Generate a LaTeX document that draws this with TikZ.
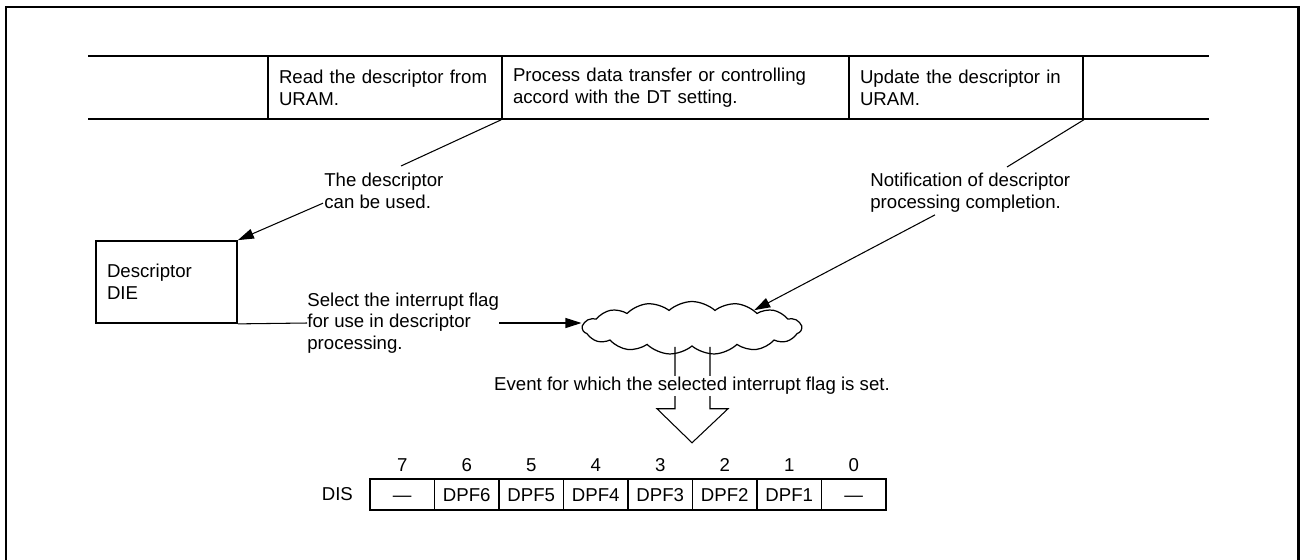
\documentclass[tikz,border=0pt]{standalone}
\usepackage{fontspec}
\setmainfont{Liberation Sans}
\usetikzlibrary{positioning,arrows.meta,shapes.symbols,calc}
\tikzset{
  celda/.style={rectangle, draw, line width=0.9pt, align=left, inner xsep=2.2mm,
    inner ysep=0pt, minimum height=12.6mm},
  caja/.style={rectangle, draw, line width=1pt, align=left, inner xsep=2.2mm,
    text width=23.8mm, minimum height=16.4mm},
  etiqueta/.style={align=left, inner sep=0pt},
  bit/.style={rectangle, draw, line width=1pt, minimum width=12.9mm,
    minimum height=6.2mm, inner sep=0pt, text height=1.7ex, text depth=0.2ex},
  nube/.style={cloud, draw, line width=0.7pt, cloud puffs=15, cloud puff arc=85,
    aspect=4.4, minimum width=43.8mm, minimum height=10.6mm, inner sep=0pt},
  flecha/.style={-{Triangle[length=3.2mm,width=2mm]}, line width=0.6pt},
  linea/.style={line width=0.6pt},
  marco/.style={line width=1.7pt},
}

\begin{document}
\begin{tikzpicture}[x=0.2mm, y=-0.2mm, font=\fontsize{10.6}{12.4}\selectfont]
  \useasboundingbox (0,0) rectangle (1301,559);
  % frame
  \draw[marco] (6,580) |- (1298.5,7) -- (1298.5,580);
  % processing bar
  \def\ysup{56} \def\yinf{119}
  \node[celda, text width=42.4mm] (leer) at (385,87.5) {Read the descriptor from\\URAM.};
  \node[celda, text width=65mm] (proc) at (675.5,87.5) {Process data transfer or controlling\\accord with the DT setting.};
  \node[celda, text width=42.4mm] (act) at (966,87.5) {Update the descriptor in\\URAM.};
  \draw[line width=0.9pt] (88,\ysup) -- (1209,\ysup) (88,\yinf) -- (1209,\yinf);
  % descriptor
  \node[caja] (desc) at (166.5,282) {Descriptor\\DIE};
  \node[etiqueta, anchor=north west] (usar) at (324,173) {The descriptor\\can be used.};
  \draw[linea] (proc.south west) -- ($(usar.north west)+(77,-7)$);
  \draw[flecha] ($(usar.south west)+(-1,-6)$) -- (desc.north east);
  % completion
  \node[etiqueta, anchor=north west] (fin) at (870,173) {Notification of descriptor\\processing completion.};
  \draw[linea] (act.south east) -- ($(fin.north west)+(137,-6)$);
  % interrupt flag
  \node[nube] (evento) at (692,328) {};
  \draw[flecha] ($(fin.south west)+(65,2)$) -- (evento.16);
  \node[etiqueta, anchor=west] (sel) at (307,323) {Select the interrupt flag\\for use in descriptor\\processing.};
  \draw[linea] (desc.south east) -- (sel.west);
  \draw[flecha] (sel.east) -- (sel.east -| evento.west);
  % hollow arrow
  \draw[linea] ($(evento.south)+(-17,0)$) |- ++(-18,62) -- ($(evento.south)+(0,96)$)
    -- ($(evento.south)+(36,62)$) -- ++(-18,0) -- ($(evento.south)+(18,0)$);
  \node[fill=white, inner xsep=2pt, inner ysep=1pt] (texto) at (692,386) {Event for which the selected interrupt flag is set.};
  % DIS register
  \foreach \b/\txt [count=\i from 0] in {7/—, 6/DPF6, 5/DPF5, 4/DPF4, 3/DPF3, 2/DPF2, 1/DPF1, 0/—}{
    \node[bit] (b\b) at ({402.25+64.5*\i},494.5) {\txt};
    \node[above=1.3mm of b\b, inner sep=0pt] {\b};
  }
  \node[left=2mm of b7] (dis) {DIS};
\end{tikzpicture}
\end{document}
